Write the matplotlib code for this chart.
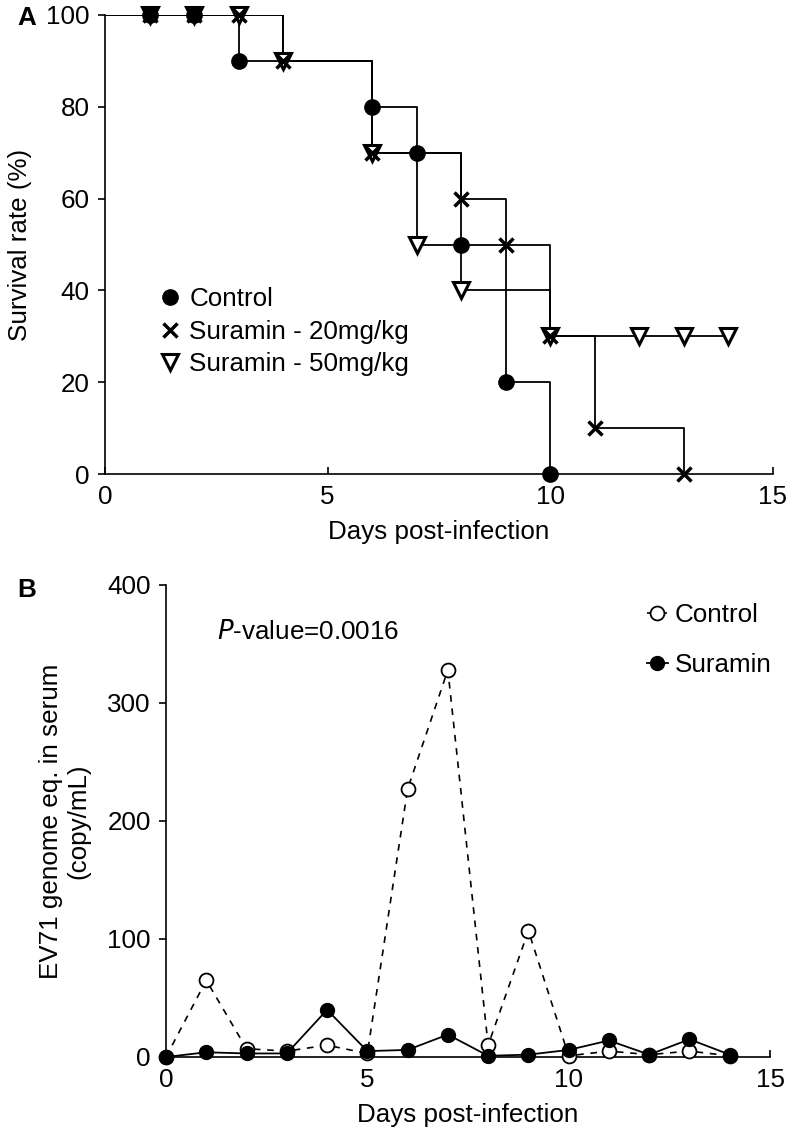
import matplotlib
matplotlib.use("Agg")
import matplotlib.pyplot as plt

plt.rcParams['font.family'] = ['Liberation Sans', 'DejaVu Sans']

# Panel A: survival (markers at observed days)
ctrl_days = [1, 2, 3, 6, 7, 8, 9, 10]
ctrl_surv = [100, 100, 90, 80, 70, 50, 20, 0]
s20_days = [1, 2, 3, 4, 6, 8, 9, 10, 11, 13]
s20_surv = [100, 100, 100, 90, 70, 60, 50, 30, 10, 0]
s50_days = [1, 2, 3, 4, 6, 7, 8, 10, 12, 13, 14]
s50_surv = [100, 100, 100, 90, 70, 50, 40, 30, 30, 30, 30]
start_day, start_surv = 0, 100

# Panel B: viral load
b_days = list(range(15))
b_ctrl = [0, 65, 7, 5, 10, 3, 227, 328, 10, 107, 1, 5, 2, 5, 1]
b_sur = [0, 4, 3, 3, 40, 5, 6, 19, 1, 2, 6, 14, 2, 15, 2]

FS = 18.7
W, H = 786, 1137
fig = plt.figure(figsize=(W / 100, H / 100), dpi=100)


def px_axes(l, t, r, b):
    return fig.add_axes([l / W, 1 - b / H, (r - l) / W, (b - t) / H])


def style(ax):
    for s in ['top', 'right']:
        ax.spines[s].set_visible(False)
    for s in ['left', 'bottom']:
        ax.spines[s].set_linewidth(1.2)
    ax.tick_params(axis='y', direction='out', length=5, width=1.2, labelsize=FS, pad=6)
    ax.tick_params(axis='x', direction='in', length=5, width=1.2, labelsize=FS, pad=8)


# ---- A ----
axA = px_axes(105, 15, 773, 474)
for d, s in [(ctrl_days, ctrl_surv), (s20_days, s20_surv), (s50_days, s50_surv)]:
    axA.step([start_day] + d, [start_surv] + s, where='post', color='black', lw=1.3, zorder=2)
hv, = axA.plot(s50_days, s50_surv, 'v', ms=12, mfc='white', mec='black', mew=2.2,
               ls='none', zorder=3, clip_on=False)
hc, = axA.plot(ctrl_days, ctrl_surv, 'o', ms=11, color='black', ls='none', zorder=4, clip_on=False)
hx, = axA.plot(s20_days, s20_surv, 'x', ms=10, mec='black', mew=2.5, ls='none', zorder=5,
               clip_on=False)
axA.set_xlim(0, 15)
axA.set_ylim(0, 100)
axA.set_xticks([0, 5, 10, 15])
axA.set_yticks([0, 20, 40, 60, 80, 100])
style(axA)
axA.set_xlabel('Days post-infection', fontsize=FS, labelpad=8)
axA.set_ylabel('Survival rate (%)', fontsize=FS, labelpad=10)
axA.legend([hc, hx, hv], ['Control', 'Suramin - 20mg/kg', 'Suramin - 50mg/kg'],
           loc='upper left', bbox_to_anchor=(0.062, 0.435), frameon=False, fontsize=FS,
           handlelength=0.8, handletextpad=0.35, labelspacing=0.33, borderpad=0)
fig.text(17 / W, 1 - 18 / H, 'A', fontsize=FS, fontweight='bold', va='center')

# ---- B ----
axB = px_axes(166, 585, 770, 1057)
l1, = axB.plot(b_days, b_ctrl, ls=(0, (4, 4)), color='black', lw=1.2, marker='o', ms=10,
               mfc='white', mec='black', mew=1.3, zorder=3, clip_on=False)
l2, = axB.plot(b_days, b_sur, ls='-', color='black', lw=1.3, marker='o', ms=10,
               mfc='black', mec='black', zorder=4, clip_on=False)
axB.set_xlim(0, 15)
axB.set_ylim(0, 400)
axB.set_xticks([0, 5, 10, 15])
axB.set_yticks([0, 100, 200, 300, 400])
style(axB)
axB.set_xlabel('Days post-infection', fontsize=FS, labelpad=8)
axB.set_ylabel('EV71 genome eq. in serum\n(copy/mL)', fontsize=FS, labelpad=12)
axB.legend([l1, l2], ['Control', 'Suramin'], loc='upper left', bbox_to_anchor=(0.775, 0.99),
           frameon=False, fontsize=FS, handlelength=0.8, handletextpad=0.25,
           labelspacing=1.0, borderpad=0)
axB.text(0.085, 0.90, r'$\it{P}$' + '-value=0.0016', transform=axB.transAxes, fontsize=FS,
         va='center')
fig.text(17 / W, 1 - 590 / H, 'B', fontsize=FS, fontweight='bold', va='center')

fig.savefig('out.png', dpi=100)
